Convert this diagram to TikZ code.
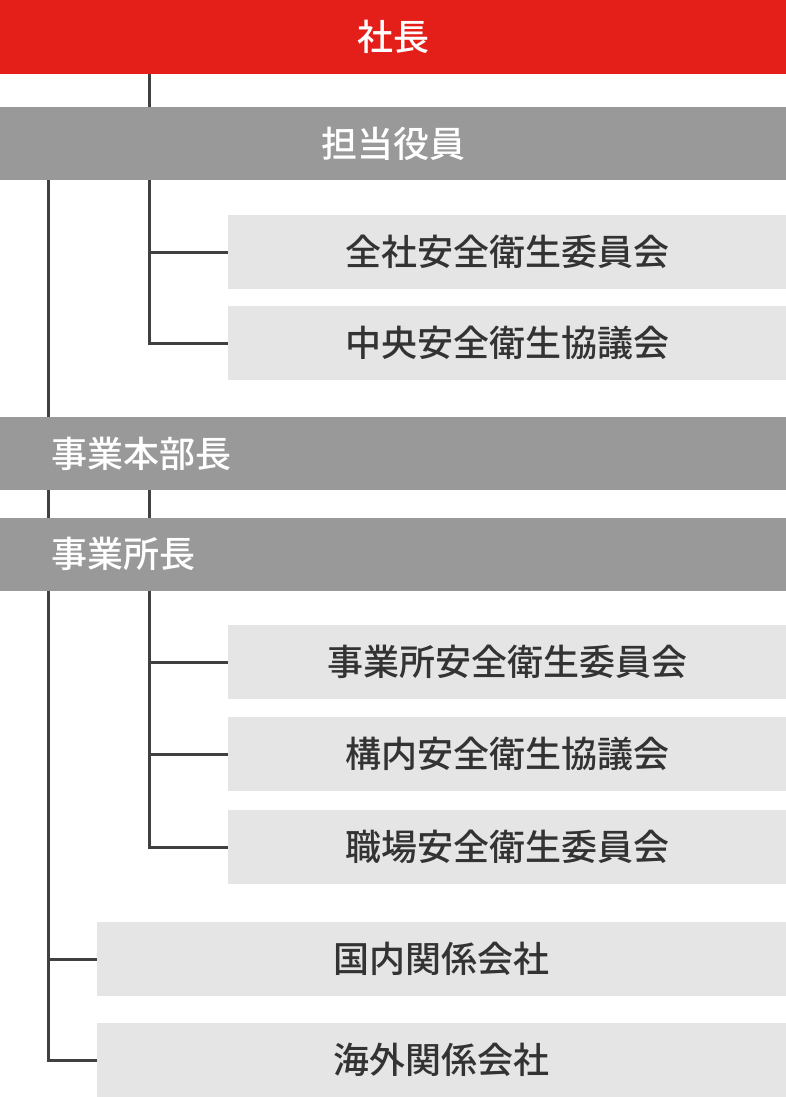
\documentclass[tikz,border=0pt]{standalone}
\usepackage{fontspec}
\newfontfamily\jp{Noto Sans CJK JP Medium}
\definecolor{topred}{HTML}{E41F1A}
\definecolor{midgray}{HTML}{999999}
\definecolor{lightgray}{HTML}{E5E5E5}
\definecolor{linegray}{HTML}{404040}
\definecolor{textdark}{HTML}{333333}
\begin{document}
\begin{tikzpicture}[x=1pt,y=-1pt,
  every node/.style={inner sep=0pt,outer sep=0pt,font=\jp\fontsize{36}{40}\selectfont},
  redbar/.style={fill=topred,text=white,minimum width=786pt,minimum height=74pt},
  graybar/.style={fill=midgray,text=white,minimum width=786pt,minimum height=73pt},
  leftbar/.style={fill=midgray,text=white,minimum height=73pt,text width=684pt,inner xsep=51pt,align=left},
  lightbox/.style={fill=lightgray,text=textdark,minimum width=558pt,minimum height=74pt},
  widebox/.style={fill=lightgray,text=textdark,minimum width=689pt,minimum height=74pt},
  conn/.style={draw=linegray,line width=3pt}]
\useasboundingbox (0,0) rectangle (786,1097);
\node[redbar] (pres) at (393,37) {社長};
\node[graybar] (tanto) at (393,143.5) {担当役員};
\node[lightbox] (c1) at (507,252) {全社安全衛生委員会};
\node[lightbox] (c2) at (507,343) {中央安全衛生協議会};
\node[leftbar] (honbu) at (393,453.5) {事業本部長};
\node[leftbar] (jig) at (393,554) {事業所長};
\node[lightbox] (c3) at (507,662) {事業所安全衛生委員会};
\node[lightbox] (c4) at (507,754) {構内安全衛生協議会};
\node[lightbox] (c5) at (507,847) {職場安全衛生委員会};
\node[widebox] (k1) at (441.5,959) {国内関係会社};
\node[widebox] (k2) at (441.5,1060) {海外関係会社};
% connectors
\coordinate (xa) at (149,0);
\coordinate (xb) at (48,0);
\draw[conn] (pres.south -| xa) -- (tanto.north -| xa);
\draw[conn] (tanto.south -| xa) -- (c2.west -| xa) -- (c2.west);
\draw[conn] (c1.west -| xa) -- (c1.west);
\draw[conn] (honbu.south -| xa) -- (jig.north -| xa);
\draw[conn] (jig.south -| xa) -- (c5.west -| xa) -- (c5.west);
\draw[conn] (c3.west -| xa) -- (c3.west);
\draw[conn] (c4.west -| xa) -- (c4.west);
\draw[conn] (tanto.south -| xb) -- (honbu.north -| xb);
\draw[conn] (honbu.south -| xb) -- (jig.north -| xb);
\draw[conn] (jig.south -| xb) -- (k2.west -| xb) -- (k2.west);
\draw[conn] (k1.west -| xb) -- (k1.west);
\end{tikzpicture}
\end{document}
